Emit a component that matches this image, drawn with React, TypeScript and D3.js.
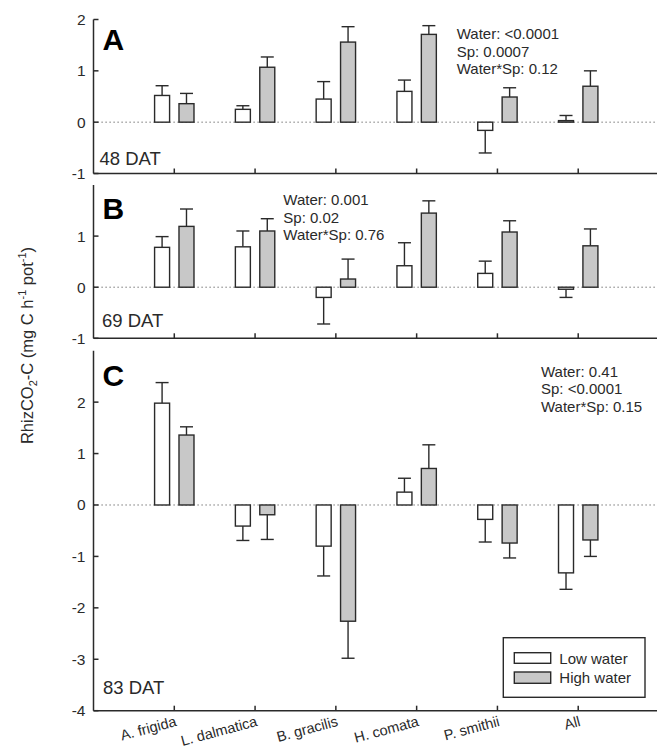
import React from 'react';
import * as d3 from 'd3';

const categories = ['A. frigida', 'L. dalmatica', 'B. gracilis', 'H. comata', 'P. smithii', 'All'];

// 48 DAT
const lowA = [0.52, 0.25, 0.45, 0.60, -0.16, 0.03];
const lowAErr = [0.19, 0.07, 0.34, 0.22, 0.44, 0.10];
const highA = [0.36, 1.07, 1.56, 1.71, 0.49, 0.70];
const highAErr = [0.20, 0.20, 0.30, 0.17, 0.18, 0.30];
// 69 DAT
const lowB = [0.78, 0.79, -0.20, 0.42, 0.27, -0.04];
const lowBErr = [0.21, 0.31, 0.52, 0.45, 0.24, 0.16];
const highB = [1.19, 1.10, 0.16, 1.45, 1.08, 0.81];
const highBErr = [0.34, 0.24, 0.39, 0.24, 0.22, 0.33];
// 83 DAT
const lowC = [1.98, -0.41, -0.80, 0.25, -0.28, -1.32];
const lowCErr = [0.40, 0.28, 0.58, 0.27, 0.44, 0.32];
const highC = [1.36, -0.19, -2.26, 0.71, -0.74, -0.68];
const highCErr = [0.16, 0.48, 0.72, 0.46, 0.29, 0.32];

const statsA = ['Water: <0.0001', 'Sp: 0.0007', 'Water*Sp: 0.12'];
const statsB = ['Water: 0.001', 'Sp: 0.02', 'Water*Sp: 0.76'];
const statsC = ['Water: 0.41', 'Sp: <0.0001', 'Water*Sp: 0.15'];

const ticksA = [-1, 0, 1, 2];
const ticksB = [-1, 0, 1];
const ticksC = [-4, -3, -2, -1, 0, 1, 2];

const FONT = '"Liberation Sans", Arial, Helvetica, sans-serif';
const INK = '#2a2a2a';
const GRAY = '#c8c8c8';

const x = d3.scaleLinear().domain([-1, 6]).range([93.5, 659]);
const OFF = 12.2;
const BW = 15;
const CAP = 13;

const panels = [
  { letter: 'A', dat: '48 DAT', low: lowA, lowErr: lowAErr, high: highA, highErr: highAErr, stats: statsA,
    domain: [-1, 2], range: [173.5, 19.5], ticks: ticksA, letterY: 50, datX: 99.5, datY: 165, statX: 456.7, statY: 39 },
  { letter: 'B', dat: '69 DAT', low: lowB, lowErr: lowBErr, high: highB, highErr: highBErr, stats: statsB,
    domain: [-1, 2], range: [338.3, 185], ticks: ticksB, letterY: 219, datX: 102, datY: 327, statX: 283.3, statY: 205 },
  { letter: 'C', dat: '83 DAT', low: lowC, lowErr: lowCErr, high: highC, highErr: highCErr, stats: statsC,
    domain: [-4, 3], range: [710.7, 350.7], ticks: ticksC, letterY: 385.7, datX: 103, datY: 694, statX: 541, statY: 376.7 },
];

function Bar({ cx, v, e, y, fill }: any) {
  const y0 = y(0);
  const yv = y(v);
  const ye = y(v + Math.sign(v) * e);
  return (
    <g>
      <line x1={cx} x2={cx} y1={yv} y2={ye} stroke={INK} strokeWidth={1.4} />
      <line x1={cx - CAP / 2} x2={cx + CAP / 2} y1={ye} y2={ye} stroke={INK} strokeWidth={1.4} />
      <rect x={cx - BW / 2} width={BW} y={Math.min(y0, yv)} height={Math.abs(yv - y0)}
        fill={fill} stroke={INK} strokeWidth={1.4} />
    </g>
  );
}

function Panel({ p, last }: any) {
  const y = d3.scaleLinear().domain(p.domain).range(p.range);
  const [yb, yt] = p.range;
  const y0 = y(0);
  return (
    <g>
      {/* zero line */}
      <line x1={x(-1)} x2={x(6)} y1={y0} y2={y0} stroke="#555" strokeWidth={1} strokeDasharray="1.2,2.8" />
      {categories.map((c, i) => (
        <g key={c}>
          <Bar cx={x(i) - OFF} v={p.low[i]} e={p.lowErr[i]} y={y} fill="#fff" />
          <Bar cx={x(i) + OFF} v={p.high[i]} e={p.highErr[i]} y={y} fill={GRAY} />
        </g>
      ))}
      {/* axes */}
      <line x1={x(-1)} x2={x(-1)} y1={yb} y2={yt} stroke={INK} strokeWidth={1.5} />
      <line x1={x(-1)} x2={x(6)} y1={yb} y2={yb} stroke={INK} strokeWidth={1.5} />
      {p.ticks.map((t: number) => (
        <g key={t}>
          <line x1={x(-1)} x2={x(-1) + 5} y1={y(t)} y2={y(t)} stroke={INK} strokeWidth={1.5} />
          <text x={x(-1) - 8} y={y(t) + 5.5} textAnchor="end" fontSize={15.5} fontFamily={FONT} fill={INK}>{t}</text>
        </g>
      ))}
      {categories.map((c, i) => (
        <line key={c} x1={x(i)} x2={x(i)} y1={yb} y2={yb - 5} stroke={INK} strokeWidth={1.5} />
      ))}
      {last && categories.map((c, i) => (
        <text key={c} transform={`translate(${x(i) + 3},${yb + 15}) rotate(-15)`} textAnchor="end"
          fontSize={14.5} fontFamily={FONT} fill={INK}>{c}</text>
      ))}
      <text x={102.5} y={p.letterY} fontSize={30} fontWeight="bold" fontFamily={FONT} fill="#000">{p.letter}</text>
      <text x={p.datX} y={p.datY} fontSize={18.5} fontFamily={FONT} fill={INK}>{p.dat}</text>
      {p.stats.map((s: string, k: number) => (
        <text key={s} x={p.statX} y={p.statY + k * 17.6} fontSize={15} fontFamily={FONT} fill={INK}>{s}</text>
      ))}
    </g>
  );
}

export default function App() {
  return (
    <svg width={657} height={751} style={{ position: 'absolute', left: 0, top: 0, background: '#fff' }}>
      {panels.map((p, i) => <Panel key={p.letter} p={p} last={i === panels.length - 1} />)}
      <text transform="translate(33.3,345.5) rotate(-90)" textAnchor="middle" fontSize={16.5} fontFamily={FONT} fill={INK}>
        RhizCO<tspan fontSize={11} dy={4}>2</tspan><tspan dy={-4}>-C (mg C h</tspan>
        <tspan fontSize={11} dy={-7}>-1</tspan><tspan dy={7}> pot</tspan>
        <tspan fontSize={11} dy={-7}>-1</tspan><tspan dy={7}>)</tspan>
      </text>
      {/* legend */}
      <rect x={503.3} y={637.7} width={141.7} height={59.6} fill="#fff" stroke={INK} strokeWidth={1.4} />
      <rect x={514.3} y={652.7} width={36.4} height={10.6} fill="#fff" stroke={INK} strokeWidth={1.4} />
      <rect x={514.3} y={672} width={36.4} height={11.3} fill={GRAY} stroke={INK} strokeWidth={1.4} />
      <text x={559.3} y={663.5} fontSize={15} fontFamily={FONT} fill={INK}>Low water</text>
      <text x={559.3} y={683} fontSize={15} fontFamily={FONT} fill={INK}>High water</text>
    </svg>
  );
}
